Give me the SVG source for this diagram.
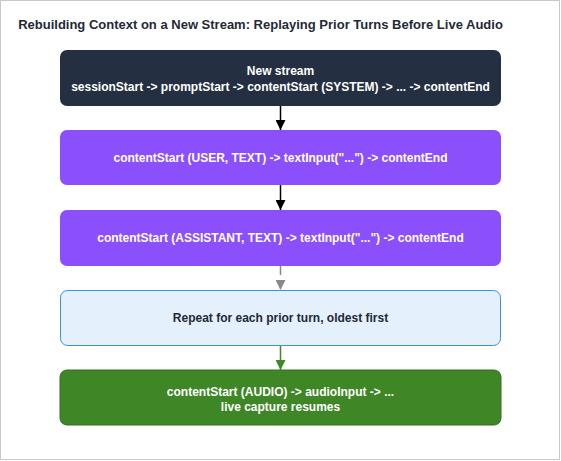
<svg xmlns="http://www.w3.org/2000/svg" width="561" height="461" viewBox="0 0 561 461">
<defs>
<style>
.t{font-family:"Liberation Sans",Arial,sans-serif;font-weight:bold;text-anchor:middle}
.title{font-size:13px;fill:#1f2937}
.w{font-size:12px;fill:#ffffff}
.d{font-size:12px;fill:#1f2937}
</style>
<marker id="ah" viewBox="0 0 10 10" refX="10" refY="5" markerWidth="10" markerHeight="10" markerUnits="userSpaceOnUse" orient="auto"><path d="M0,0 L10,5 L0,10 z" fill="#000000"/></marker>
<marker id="ahg" viewBox="0 0 10 10" refX="10" refY="5" markerWidth="10" markerHeight="10" markerUnits="userSpaceOnUse" orient="auto"><path d="M0,0 L10,5 L0,10 z" fill="#8a8a8a"/></marker>
<marker id="ahgr" viewBox="0 0 10 10" refX="10" refY="5" markerWidth="10" markerHeight="10" markerUnits="userSpaceOnUse" orient="auto"><path d="M0,0 L10,5 L0,10 z" fill="#3e8a27"/></marker>
</defs>
<rect x="0.5" y="0.5" width="559" height="459" fill="#ffffff" stroke="#c8c8c8"/>
<text class="t title" x="260.5" y="29">Rebuilding Context on a New Stream: Replaying Prior Turns Before Live Audio</text>
<g id="connectors">
<line x1="280.5" y1="106" x2="280.5" y2="130" stroke="#000000" stroke-width="1.5" marker-end="url(#ah)"/>
<line x1="280.5" y1="185" x2="280.5" y2="210" stroke="#000000" stroke-width="1.5" marker-end="url(#ah)"/>
<line x1="280.5" y1="266" x2="280.5" y2="290" stroke="#8a8a8a" stroke-width="1.5" stroke-dasharray="9,5" marker-end="url(#ahg)"/>
<line x1="280.5" y1="346" x2="280.5" y2="370" stroke="#3e8a27" stroke-width="1.5" marker-end="url(#ahgr)"/>
</g>
<g id="n1">
<rect x="60" y="50" width="441" height="56" rx="7" fill="#243041"/>
<text class="t w" x="280.5" y="75">New stream</text>
<text class="t w" x="280.5" y="91">sessionStart -&gt; promptStart -&gt; contentStart (SYSTEM) -&gt; ... -&gt; contentEnd</text>
</g>
<g id="n2">
<rect x="60" y="130" width="441" height="55" rx="7" fill="#8b4ffb"/>
<text class="t w" x="280.5" y="162">contentStart (USER, TEXT) -&gt; textInput("...") -&gt; contentEnd</text>
</g>
<g id="n3">
<rect x="60" y="210" width="441" height="56" rx="7" fill="#8b4ffb"/>
<text class="t w" x="280.5" y="242">contentStart (ASSISTANT, TEXT) -&gt; textInput("...") -&gt; contentEnd</text>
</g>
<g id="n4">
<rect x="60.5" y="290.5" width="440" height="55" rx="7" fill="#e4f0fc" stroke="#3b8ef0" stroke-width="1"/>
<text class="t d" x="280.5" y="322">Repeat for each prior turn, oldest first</text>
</g>
<g id="n5">
<rect x="60" y="370" width="441" height="55" rx="7" fill="#3e8626" stroke="#366f22" stroke-width="1"/>
<text class="t w" x="280.5" y="396">contentStart (AUDIO) -&gt; audioInput -&gt; ...</text>
<text class="t w" x="280.5" y="411">live capture resumes</text>
</g>
</svg>
